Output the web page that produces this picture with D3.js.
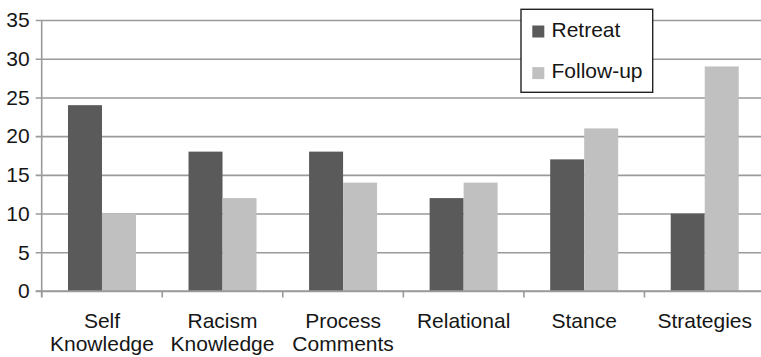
<!DOCTYPE html>
<html>
<head>
<meta charset="utf-8">
<script src="https://cdn.jsdelivr.net/npm/d3@7"></script>
<style>
  html, body { margin: 0; padding: 0; background: #fff; }
  svg { display: block; }
  text { font-family: "Liberation Sans", Arial, Helvetica, sans-serif; fill: #161616; }
</style>
</head>
<body>
<svg id="chart" width="761" height="357"></svg>
<script>
// Category labels (each entry is a list of lines)
const categories = [
  ["Self", "Knowledge"],
  ["Racism", "Knowledge"],
  ["Process", "Comments"],
  ["Relational"],
  ["Stance"],
  ["Strategies"]
];
const seriesNames = ["Retreat", "Follow-up"];
const retreat  = [24, 18, 18, 12, 17, 10];
const followUp = [10, 12, 14, 14, 21, 29];
const yTicks = [0, 5, 10, 15, 20, 25, 30, 35];
const colors = ["#5a5a5a", "#c0c0c0"];

const svg = d3.select("#chart");
const plotLeft = 41.7, plotRight = 765, plotTop = 20, plotBottom = 291;
const fontSize = "21px";

const keys = categories.map((c, i) => i);
const x = d3.scaleBand().domain(keys).range([plotLeft, plotRight]).paddingInner(0).paddingOuter(0);
const y = d3.scaleLinear().domain([0, 35]).range([plotBottom, plotTop]);
const inner = d3.scaleBand().domain([0, 1]).range([0, x.bandwidth()]).paddingInner(0).paddingOuter(0.773);

const gridColor = "#9a9a9a";

// horizontal gridlines with outward ticks
svg.append("g")
  .attr("transform", `translate(${plotLeft},0)`)
  .call(d3.axisLeft(y).tickValues(yTicks).tickSize(-(plotRight - plotLeft)).tickSizeOuter(0).tickPadding(12))
  .call(g => g.select(".domain").remove())
  .call(g => g.selectAll(".tick line")
      .attr("stroke", gridColor).attr("stroke-width", 1.6)
      .attr("x1", -6))
  .call(g => g.selectAll(".tick text")
      .attr("x", -12)
      .style("font-size", fontSize)
      .style("font-family", "'Liberation Sans', Arial, sans-serif")
      .attr("fill", "#161616"));

// bars
const rows = keys.map(i => [retreat[i], followUp[i]]);
const groups = svg.append("g").selectAll("g")
  .data(rows).join("g")
  .attr("transform", (d, i) => `translate(${x(i)},0)`);
groups.selectAll("rect")
  .data(d => d.map((v, s) => ({ v, s })))
  .join("rect")
  .attr("x", d => inner(d.s))
  .attr("width", inner.bandwidth())
  .attr("y", d => y(d.v))
  .attr("height", d => y(0) - y(d.v))
  .attr("fill", d => colors[d.s]);

// y axis line
svg.append("line")
  .attr("x1", plotLeft).attr("x2", plotLeft).attr("y1", plotTop).attr("y2", plotBottom + 6)
  .attr("stroke", gridColor).attr("stroke-width", 1.6);

// x axis with category boundary ticks
const xAxis = svg.append("g").attr("transform", `translate(0,${plotBottom})`);
xAxis.append("line")
  .attr("x1", plotLeft - 6).attr("x2", plotRight).attr("y1", 0).attr("y2", 0)
  .attr("stroke", gridColor).attr("stroke-width", 1.6);
xAxis.selectAll("line.tk")
  .data(keys.concat([keys.length]))
  .join("line").attr("class", "tk")
  .attr("x1", i => i < keys.length ? x(i) : plotRight)
  .attr("x2", i => i < keys.length ? x(i) : plotRight)
  .attr("y1", 0).attr("y2", 6.5)
  .attr("stroke", gridColor).attr("stroke-width", 1.6);

// category labels
const labels = svg.append("g").selectAll("text")
  .data(categories).join("text")
  .attr("x", (d, i) => x(i) + x.bandwidth() / 2)
  .attr("y", 327.5)
  .attr("text-anchor", "middle")
  .style("font-size", fontSize);
labels.selectAll("tspan")
  .data(d => d).join("tspan")
  .attr("x", function () { return d3.select(this.parentNode).attr("x"); })
  .attr("dy", (d, j) => j === 0 ? 0 : 23.5)
  .text(d => d);

// legend
const legend = svg.append("g");
legend.append("rect")
  .attr("x", 521).attr("y", 9.3).attr("width", 131.7).attr("height", 83)
  .attr("fill", "#fff").attr("stroke", "#222").attr("stroke-width", 1.4);
const items = legend.selectAll("g.item")
  .data(seriesNames).join("g").attr("class", "item")
  .attr("transform", (d, i) => `translate(0,${i * 41.6})`);
items.append("rect")
  .attr("x", 532.3).attr("y", 25.5).attr("width", 12).attr("height", 12)
  .attr("fill", (d, i) => colors[i]);
items.append("text")
  .attr("x", 551.5).attr("y", 36.7)
  .style("font-size", fontSize)
  .text(d => d);
</script>
</body>
</html>
